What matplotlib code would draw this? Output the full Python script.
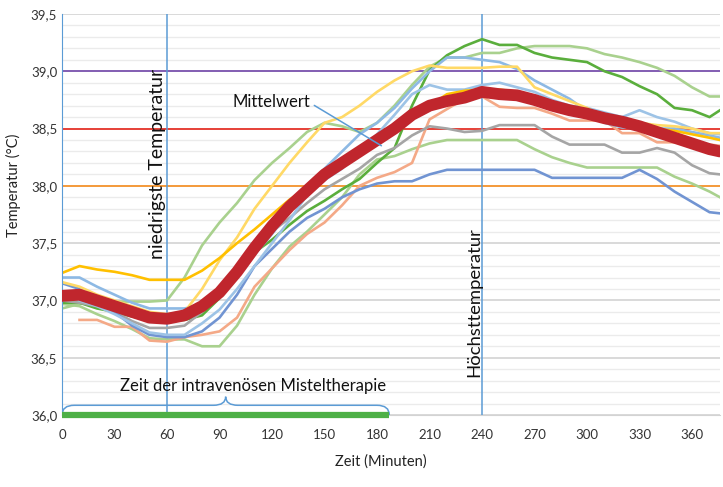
import numpy as np
import matplotlib
matplotlib.use("Agg")
import matplotlib.pyplot as plt
from matplotlib.path import Path
from matplotlib.patches import PathPatch

plt.rcParams['font.family'] = ['Lato', 'DejaVu Sans']

# minutes after start of infusion
minutes = list(range(0, 371, 10)) + [376]

nan = np.nan
# individual patients (°C)
gold = [37.24, 37.30, 37.27, 37.25, 37.22, 37.18, 37.18, 37.18, 37.26, 37.37,
        37.50, 37.62, 37.75, 37.88, 37.98, 38.10, 38.20, 38.30, 38.42, 38.50,
        38.60, 38.70, 38.80, 38.83, 38.84, 38.84, 38.82, 38.76, 38.72, 38.68,
        38.64, 38.60, 38.55, 38.52, 38.50, 38.48, 38.45, 38.42, 38.40]
light_yellow = [37.16, 37.12, 37.05, 37.00, 36.95, 36.90, 36.88, 36.90, 37.10, 37.35,
                37.55, 37.80, 38.00, 38.20, 38.38, 38.55, 38.60, 38.70, 38.82, 38.92,
                39.00, 39.05, 39.03, 39.03, 39.03, 39.04, 39.04, 38.86, 38.80, 38.74,
                38.68, 38.60, 38.56, 38.55, 38.53, 38.52, 38.50, 38.46, 38.46]
dark_green = [36.98, 36.98, 36.93, 36.90, 36.86, 36.83, 36.82, 36.83, 36.87, 37.02,
              37.22, 37.42, 37.53, 37.66, 37.78, 37.87, 37.97, 38.06, 38.20, 38.33,
              38.70, 39.01, 39.14, 39.22, 39.28, 39.23, 39.23, 39.16, 39.12, 39.10,
              39.08, 39.00, 38.95, 38.87, 38.80, 38.68, 38.66, 38.60, 38.66]
green_top = [36.93, 36.97, 36.98, 36.99, 36.99, 36.99, 37.00, 37.20, 37.48, 37.68,
             37.85, 38.05, 38.20, 38.33, 38.47, 38.55, 38.52, 38.47, 38.55, 38.70,
             38.88, 39.04, 39.12, 39.12, 39.16, 39.16, 39.20, 39.22, 39.22, 39.22,
             39.20, 39.15, 39.12, 39.08, 39.03, 38.96, 38.86, 38.78, 38.78]
green_low = [36.97, 36.95, 36.88, 36.82, 36.75, 36.67, 36.66, 36.66, 36.60, 36.60,
             36.78, 37.05, 37.28, 37.47, 37.60, 37.75, 37.90, 38.10, 38.23, 38.26,
             38.32, 38.37, 38.40, 38.40, 38.40, 38.40, 38.40, 38.32, 38.25, 38.20,
             38.16, 38.16, 38.16, 38.16, 38.16, 38.08, 38.02, 37.95, 37.90]
light_blue_1 = [37.20, 37.20, 37.12, 37.05, 36.98, 36.93, 36.93, 36.93, 36.96, 37.05,
                37.20, 37.40, 37.58, 37.78, 37.98, 38.15, 38.30, 38.45, 38.55, 38.68,
                38.85, 39.00, 39.12, 39.12, 39.10, 39.08, 39.02, 38.92, 38.84, 38.76,
                38.65, 38.55, 38.51, 38.50, 38.50, 38.50, 38.47, 38.44, 38.42]
light_blue_2 = [37.05, 37.00, 36.95, 36.88, 36.80, 36.72, 36.70, 36.70, 36.80, 36.92,
                37.10, 37.30, 37.50, 37.70, 37.92, 38.05, 38.15, 38.30, 38.45, 38.62,
                38.80, 38.88, 38.84, 38.84, 38.88, 38.90, 38.86, 38.82, 38.75, 38.70,
                38.68, 38.64, 38.60, 38.66, 38.60, 38.56, 38.50, 38.46, 38.45]
blue = [37.15, 37.10, 37.00, 36.90, 36.78, 36.70, 36.68, 36.68, 36.73, 36.85,
        37.05, 37.30, 37.45, 37.60, 37.72, 37.80, 37.90, 37.97, 38.02, 38.04,
        38.04, 38.10, 38.14, 38.14, 38.14, 38.14, 38.14, 38.14, 38.07, 38.07,
        38.07, 38.07, 38.07, 38.14, 38.06, 37.95, 37.86, 37.77, 37.76]
gray = [37.00, 36.98, 36.95, 36.90, 36.82, 36.76, 36.76, 36.78, 36.90, 37.05,
        37.30, 37.48, 37.60, 37.72, 37.85, 37.97, 38.06, 38.15, 38.27, 38.33,
        38.44, 38.52, 38.50, 38.47, 38.48, 38.53, 38.53, 38.53, 38.43, 38.36,
        38.36, 38.36, 38.29, 38.29, 38.33, 38.29, 38.18, 38.11, 38.10]
salmon = [nan, 36.83, 36.83, 36.77, 36.77, 36.65, 36.64, 36.68, 36.70, 36.73,
          36.85, 37.12, 37.28, 37.44, 37.58, 37.68, 37.83, 38.00, 38.07, 38.12,
          38.20, 38.58, 38.67, 38.76, 38.78, 38.69, 38.68, 38.68, 38.63, 38.57,
          38.57, 38.57, 38.46, 38.46, 38.38, 38.38, 38.38, 38.36, 38.35]
mean = [37.04, 37.05, 37.00, 36.95, 36.90, 36.85, 36.84, 36.87, 36.95, 37.07,
        37.25, 37.46, 37.65, 37.82, 37.96, 38.10, 38.20, 38.30, 38.40, 38.50,
        38.62, 38.70, 38.74, 38.77, 38.82, 38.80, 38.79, 38.75, 38.70, 38.66,
        38.63, 38.59, 38.56, 38.52, 38.47, 38.42, 38.37, 38.32, 38.30]

patients = [
    (green_top, '#A9D18E'), (green_low, '#A9D18E'), (dark_green, '#5AAE3C'),
    (salmon, '#F4A987'), (gray, '#A5A5A5'), (blue, '#7194D2'),
    (light_blue_2, '#9DC3E6'), (light_blue_1, '#8DB9E4'),
    (light_yellow, '#FFD966'), (gold, '#FFC000'),
]

ref_levels = [39.0, 38.5, 38.0]
ref_colors = ['#7C55B0', '#E8352B', '#F7962F']
t_lowest = 60
t_highest = 240
therapy_start, therapy_end = 0, 187

fig = plt.figure(figsize=(7.23, 4.87), dpi=100)
ax = fig.add_axes([0.0858, 0.1478, 0.9101, 0.8235])

ax.set_xlim(0, 376)
ax.set_ylim(36.0, 39.5)

# grid
ax.set_yticks(np.arange(36.0, 39.51, 0.5))
ax.set_yticks(np.arange(36.0, 39.51, 0.1), minor=True)
ax.grid(axis='y', which='minor', color='#EBEBEB', lw=1.0)
ax.grid(axis='y', which='major', color='#D3D3D3', lw=1.2)
ax.set_axisbelow(True)
ax.set_xticks(range(0, 361, 30))
ax.tick_params(length=0, which='both', labelsize=9.5, colors='#333333')
ax.tick_params(axis='x', pad=10)
ax.set_yticklabels([f"{v:.1f}".replace('.', ',') for v in np.arange(36.0, 39.51, 0.5)])

for s in ['top', 'right']:
    ax.spines[s].set_visible(False)
ax.spines['bottom'].set_color('#D3D3D3')
ax.spines['left'].set_color('#5B9BD5')

for lvl, c in zip(ref_levels, ref_colors):
    ax.axhline(lvl, color=c, lw=1.3, zorder=1)
for t in (t_lowest, t_highest):
    ax.axvline(t, color='#5B9BD5', lw=1.1, zorder=1)

for vals, c in patients:
    ax.plot(minutes, vals, color=c, lw=1.9, zorder=2)
ax.plot(minutes, mean, color='#C0262D', lw=8.5, solid_capstyle='round',
        solid_joinstyle='round', zorder=3)

# therapy bar and brace
ax.plot([therapy_start, therapy_end], [36.0, 36.0], color='#4DB046', lw=4.5,
        solid_capstyle='butt', clip_on=False, zorder=4)
x0, x1 = therapy_start, therapy_end
xm = (x0 + x1) / 2
r = 7
yb, ym, yt = 36.0, 36.085, 36.16
verts = [(x0, yb), (x0, ym), (x0 + r, ym), (xm - r, ym), (xm, ym), (xm, yt),
         (xm, ym), (xm + r, ym), (x1 - r, ym), (x1, ym), (x1, yb)]
codes = [Path.MOVETO, Path.CURVE3, Path.CURVE3, Path.LINETO, Path.CURVE3, Path.CURVE3,
         Path.CURVE3, Path.CURVE3, Path.LINETO, Path.CURVE3, Path.CURVE3]
ax.add_patch(PathPatch(Path(verts, codes), fill=False, edgecolor='#5B9BD5', lw=1.1, zorder=3))

ax.text(109, 36.25, 'Zeit der intravenösen Misteltherapie', fontsize=12,
        ha='center', va='center', color='#111111')
ax.text(54.5, 38.19, 'niedrigste Temperatur', fontsize=14, rotation=90,
        ha='center', va='center', color='#111111')
ax.text(235.5, 36.99, 'Höchsttemperatur', fontsize=13.3, rotation=90,
        ha='center', va='center', color='#111111')
ax.annotate('Mittelwert', xy=(182.5, 38.35), xytext=(97.5, 38.73), fontsize=12,
            va='center', ha='left', color='#111111',
            arrowprops=dict(arrowstyle='-', color='#5B9BD5', lw=1.1,
                            shrinkA=0, shrinkB=0,
                            relpos=(1.05, 0.3)))

ax.set_ylabel('Temperatur (°C)', fontsize=10.5, color='#222222')
ax.yaxis.set_label_coords(-0.062, 0.573)
ax.set_xlabel('Zeit (Minuten)', fontsize=10.5, color='#222222')
ax.xaxis.set_label_coords(0.485, -0.097)

fig.savefig('out.png', dpi=100)
